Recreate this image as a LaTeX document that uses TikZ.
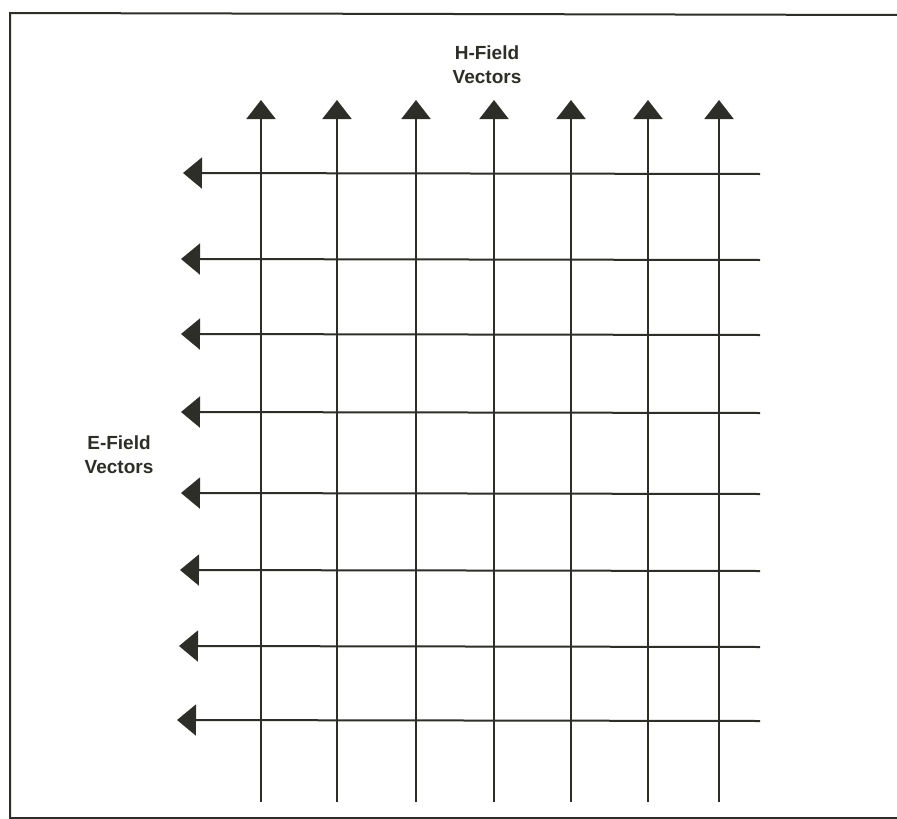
\documentclass[tikz,border=0pt]{standalone}
\usepackage{fontspec}
\setmainfont{Liberation Sans}
\usetikzlibrary{arrows.meta}
\definecolor{ink}{HTML}{2E2E28}
\tikzset{
  fieldline/.style={draw=ink, line width=2pt},
  uparrow/.style={fieldline, -{Triangle[width=29pt,length=19pt]}},
  leftarrow/.style={fieldline, -{Triangle[width=31pt,length=19pt]}},
  lbl/.style={text=ink, font=\fontsize{19}{24}\selectfont\bfseries, align=center, inner sep=0pt}
}
\begin{document}
\begin{tikzpicture}[x=1pt,y=-1pt]
\useasboundingbox (0,0) rectangle (897,819);
\fill[white] (0,0) rectangle (897,819);
\draw[ink, line width=2pt] (897,15) -- (10,13) -- (10,818) -- (897,818);
% vertical H-field lines
\foreach \i/\x in {1/261,2/337,3/416,4/494,5/571,6/648,7/719}{
  \coordinate (vb\i) at (\x,802);
  \coordinate (vt\i) at (\x,100);
  \draw[uparrow] (vb\i) -- (vt\i);
}
% horizontal E-field lines
\foreach \i/\y/\l in {1/173/183,2/259/181,3/334/181,4/412/181,5/493/181,6/570/180,7/646/179,8/720/177}{
  \coordinate (hr\i) at (760,\y+1);
  \coordinate (hl\i) at (\l,\y);
  \draw[leftarrow] (hr\i) -- (hl\i);
}
\node[lbl] (hlabel) at (487,65) {H-Field\\Vectors};
\node[lbl] (elabel) at (119,455) {E-Field\\Vectors};
\end{tikzpicture}
\end{document}
